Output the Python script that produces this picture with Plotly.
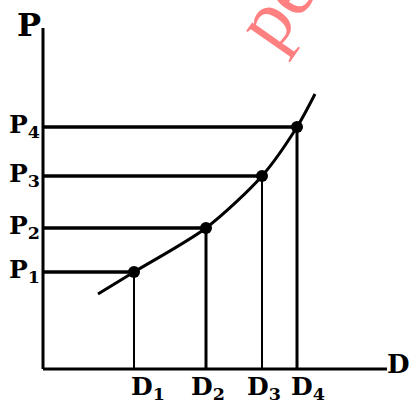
import plotly.graph_objects as go

# ---- data (arbitrary units, origin at axis intersection) ----
demand = [9.1, 16.3, 21.9, 25.4]          # D1..D4
price = [9.7, 14.1, 19.3, 24.2]           # P1..P4
d_labels = ["D<sub>1</sub>", "D<sub>2</sub>", "D<sub>3</sub>", "D<sub>4</sub>"]
p_labels = ["P<sub>1</sub>", "P<sub>2</sub>", "P<sub>3</sub>", "P<sub>4</sub>"]
curve_x = [5.5, 9.1, 16.3, 21.9, 25.4, 27.2]
curve_y = [7.5, 9.7, 14.1, 19.3, 24.2, 27.5]
x_axis_end = 34.4
y_axis_end = 34.1

# label nudges (pixels) for the crowded D labels
d_label_shift = [-5, -17, -17, -8]

FONT = "DejaVu Serif"
BLACK = "#000000"

fig = go.Figure()

# curve
fig.add_trace(go.Scatter(x=curve_x, y=curve_y, mode="lines",
                         line=dict(color=BLACK, width=3, shape="spline", smoothing=0.8),
                         hoverinfo="skip", showlegend=False))

shapes = []
# axes
shapes.append(dict(type="line", x0=0, y0=0, x1=x_axis_end, y1=0,
                   line=dict(color=BLACK, width=3), layer="above"))
shapes.append(dict(type="line", x0=0, y0=0, x1=0, y1=y_axis_end,
                   line=dict(color=BLACK, width=3), layer="above"))
# guide lines
vwidths = [2, 3, 2, 3]
for d, p, vw in zip(demand, price, vwidths):
    shapes.append(dict(type="line", x0=0, y0=p, x1=d, y1=p,
                       line=dict(color=BLACK, width=3.5)))
    shapes.append(dict(type="line", x0=d, y0=0, x1=d, y1=p,
                       line=dict(color=BLACK, width=vw)))

# points
fig.add_trace(go.Scatter(x=demand, y=price, mode="markers",
                         marker=dict(color=BLACK, size=12),
                         hoverinfo="skip", showlegend=False))

ann = []
for p, lab in zip(price, p_labels):
    ann.append(dict(x=0, y=p, text=lab, showarrow=False, xanchor="right", yanchor="middle",
                    xshift=-1, yshift=1,
                    font=dict(family=FONT, size=25, color=BLACK, weight="bold")))
for d, lab, sh in zip(demand, d_labels, d_label_shift):
    ann.append(dict(x=d, y=0, text=lab, showarrow=False, xanchor="left", yanchor="top",
                    xshift=sh, yshift=-1,
                    font=dict(family=FONT, size=25, color=BLACK, weight="bold")))
# axis titles
ann.append(dict(x=0, y=y_axis_end, text="P", showarrow=False, xanchor="right", yanchor="middle",
                xshift=0, yshift=3,
                font=dict(family=FONT, size=32, color=BLACK, weight="bold")))
ann.append(dict(x=x_axis_end, y=0, text="D", showarrow=False, xanchor="left", yanchor="middle",
                xshift=-2, yshift=5,
                font=dict(family=FONT, size=26, color=BLACK, weight="bold")))
# watermark
ann.append(dict(x=23.2, y=36.2, text="pe", showarrow=False, textangle=-55,
                font=dict(family="Liberation Serif", size=80, color="#ff8080")))

fig.update_layout(
    width=411, height=404, autosize=False,
    margin=dict(l=0, r=0, t=0, b=0),
    paper_bgcolor="white", plot_bgcolor="white",
    xaxis=dict(range=[-4.3, 36.8], visible=False, fixedrange=True),
    yaxis=dict(range=[-3.5, 36.9], visible=False, fixedrange=True),
    shapes=shapes, annotations=ann,
)

fig.write_html("out.html",
               config={"displayModeBar": False, "staticPlot": True},
               post_script="document.body.style.margin='0px';document.body.style.overflow='hidden';")
